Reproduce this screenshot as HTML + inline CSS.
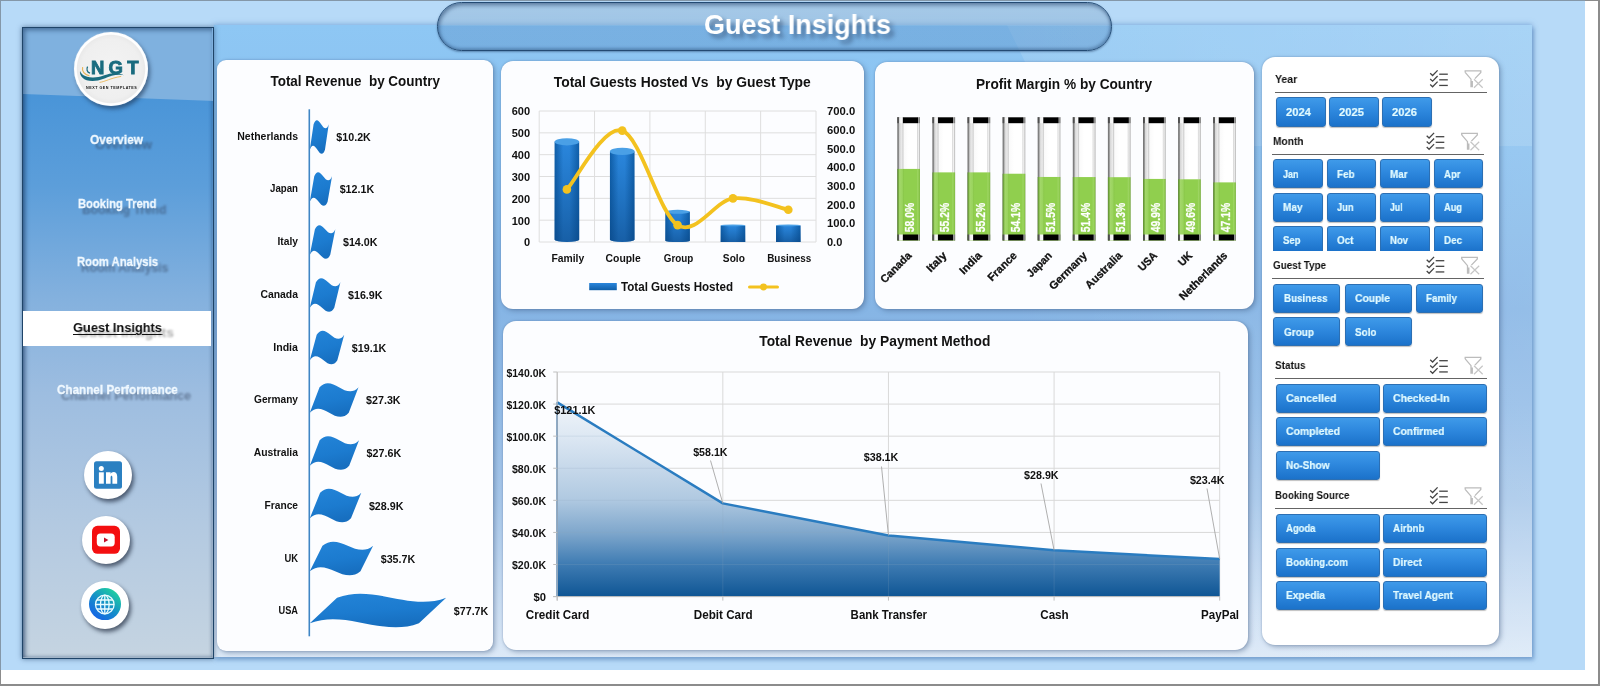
<!DOCTYPE html>
<html><head><meta charset="utf-8"><title>Guest Insights</title>
<style>
*{box-sizing:border-box;margin:0;padding:0}
html,body{width:1600px;height:686px;overflow:hidden;background:#fff;font-family:"Liberation Sans",sans-serif;}
#root{position:relative;width:1600px;height:686px;overflow:hidden;background:#fff;}
.abs{position:absolute}
.t{position:absolute;white-space:nowrap;line-height:1;transform-origin:0 50%;will-change:transform}
svg{position:absolute;left:0;top:0;overflow:visible;will-change:transform}
svg text{font-family:"Liberation Sans",sans-serif;white-space:pre}
.panel{position:absolute;background:#fcfdff;box-shadow:0 0 2px rgba(60,90,135,.4), 2px 2px 5px rgba(60,85,125,.42);}
.btn{position:absolute;border:1px solid #2c6fb3;border-radius:3px;background:linear-gradient(#3f9ae9 0%,#2e88de 45%,#1b72ca 100%);box-shadow:0 1px 1px rgba(0,0,0,.25);}
.hl{position:absolute;height:1.1px;background:#646464}
</style></head><body><div id="root">


<div class="abs" style="left:0;top:0;width:1600px;height:686px;background:#8c8c8c"></div>
<div class="abs" style="left:1px;top:1px;width:1597px;height:683px;background:#fff"></div>
<div class="abs" style="left:0;top:0;width:1585px;height:670px;background:#8497a8"></div>
<div class="abs" style="left:1px;top:1px;width:1584px;height:669px;background:#b7daf8"></div>
<div class="abs" id="inner" style="left:214px;top:25px;width:1317.5px;height:631.5px;background:linear-gradient(90deg,rgba(255,255,255,0) 0%,rgba(255,255,255,0) 60%,rgba(255,255,255,.12) 100%),linear-gradient(180deg,#8ec7f4 0%,#8ac1ef 20%,#86b5e5 45%,#93bce7 60%,#a8c8ea 75%,#c8dcf2 90%,#dce9f7 100%);box-shadow:0 -1px 5px rgba(90,140,200,.55), 2px 3px 4px rgba(80,125,180,.55);overflow:hidden">
  <svg width="1318" height="632" viewBox="0 0 1318 632"><polygon points="793,0 1318,0 1318,121 852,121" fill="#fff" fill-opacity=".13"/></svg>
</div>


<div class="abs" style="left:437px;top:2px;width:675px;height:49px;border-radius:25px;border:1.5px solid #234a73;background:linear-gradient(180deg,rgba(150,185,215,.55) 0%,rgba(140,180,215,.5) 46%,rgba(95,150,205,.45) 50%,rgba(95,150,205,.45) 100%);box-shadow:inset 1px 2px 4px rgba(20,50,90,.55), inset -1px -2px 3px rgba(20,50,90,.28), 0 1px 2px rgba(40,70,110,.5)"></div>

<div class="t " style="left:703.90px;top:11.73px;font-size:27px;color:#ffffff;font-weight:bold;transform:scaleX(0.9972);text-shadow:4px 4px 4px rgba(50,75,110,.6);">Guest Insights</div>

<div class="abs" id="side" style="left:22px;top:27px;width:192px;height:632px;border:1.5px solid #1f4468;background:linear-gradient(180deg,#4590d6 0%,#4a95d8 11%,#5c9eda 25%,#84b1de 43%,#9dbde0 58%,#b4cae1 80%,#c5d4e1 100%);box-shadow:0 0 5px rgba(30,60,100,.6), inset 0 0 4px rgba(30,60,100,.5);overflow:hidden">
  <svg width="192" height="100" viewBox="0 0 192 100"><polygon points="0,0 192,0 192,73 0,66" fill="#7fb1df"/></svg>
  <div class="abs" style="left:0;top:0;width:189px;height:629px;box-shadow:inset 2px 2px 5px rgba(20,50,90,.55)"></div>
</div>
<div class="abs" style="left:23px;top:311px;width:188px;height:34.5px;background:#fff"></div>


<div class="abs" style="left:74px;top:32px;width:74px;height:74px;border-radius:50%;background:radial-gradient(circle closest-side at 50% 50%,#f3f3f3 0%,#efefef 80%,#eaeaea 91%,#ffffff 94%,#fdfdfd 100%);box-shadow:2px 3px 4px rgba(20,40,70,.55), 0 0 1px rgba(255,255,255,.9)"></div>
<svg width="1600" height="686" viewBox="0 0 1600 686">
  <g transform="translate(0,0.6)"><path d="M80,70.1 C80.8,73.2 84.5,76.6 92.5,76.9 C100,77.2 105.5,73.6 111.5,72.9 C116.5,72.4 121,73.3 123.8,74.6 C120.5,74.1 116,73.9 111.8,75.2 C106,77 100.5,80.4 92.5,80.4 C83.5,80.4 79.2,75.2 80,70.1 Z" fill="#1a6c7f"/>
  <path d="M82.6,66.6 C81.6,70.6 84.6,74.2 89.4,75.2" fill="none" stroke="#e9b75a" stroke-width="1.2"/>
  <path d="M99.5,81.8 C105.5,81 110,77.6 121.2,75.8" fill="none" stroke="#e9b75a" stroke-width="0.9"/>
  <path d="M87.6,66 C86.2,68.6 87,71.4 90,72.6" fill="none" stroke="#1a6c7f" stroke-width="1.3"/></g>
</svg>

<div class="t " style="left:91.20px;top:58.60px;font-size:18.5px;color:#1a6c7f;font-weight:bold;transform:scaleX(1.0000);letter-spacing:4.2px;-webkit-text-stroke:0.9px #1a6c7f;">NGT</div>
<div class="t " style="left:85.90px;top:87.14px;font-size:3.7px;color:#111;font-weight:bold;transform:scaleX(1.0000);letter-spacing:.52px;">NEXT GEN TEMPLATES</div>
<div aria-hidden="true" class="t sh" style="left:94.60px;top:138.32px;font-size:13.3px;color:rgba(45,60,85,.5);font-weight:bold;transform:scaleX(0.9650);filter:blur(1.3px);">Overview</div><div class="t " style="left:90.10px;top:133.12px;font-size:13.3px;color:#f1f9ff;font-weight:bold;transform:scaleX(0.8960);-webkit-text-stroke:0.3px #f1f9ff;">Overview</div>
<div aria-hidden="true" class="t sh" style="left:82.30px;top:202.52px;font-size:13.3px;color:rgba(45,60,85,.5);font-weight:bold;transform:scaleX(0.9069);filter:blur(1.3px);">Booking Trend</div><div class="t " style="left:77.80px;top:197.32px;font-size:13.3px;color:#f1f9ff;font-weight:bold;transform:scaleX(0.8421);-webkit-text-stroke:0.3px #f1f9ff;">Booking Trend</div>
<div aria-hidden="true" class="t sh" style="left:81.30px;top:260.52px;font-size:13.3px;color:rgba(45,60,85,.5);font-weight:bold;transform:scaleX(0.9126);filter:blur(1.3px);">Room Analysis</div><div class="t " style="left:76.80px;top:255.32px;font-size:13.3px;color:#f1f9ff;font-weight:bold;transform:scaleX(0.8474);-webkit-text-stroke:0.3px #f1f9ff;">Room Analysis</div>
<div aria-hidden="true" class="t sh" style="left:61.00px;top:388.52px;font-size:13.3px;color:rgba(45,60,85,.5);font-weight:bold;transform:scaleX(0.9463);filter:blur(1.3px);">Channel Performance</div><div class="t " style="left:56.50px;top:383.32px;font-size:13.3px;color:#f1f9ff;font-weight:bold;transform:scaleX(0.8787);-webkit-text-stroke:0.3px #f1f9ff;">Channel Performance</div>
<div aria-hidden="true" class="t sh" style="left:77.50px;top:325.87px;font-size:13.6px;color:rgba(60,60,60,.42);font-weight:bold;transform:scaleX(1.0148);filter:blur(1.3px);">Guest Insights</div><div class="t " style="left:73.00px;top:320.67px;font-size:13.6px;color:#111;font-weight:bold;transform:scaleX(0.9422);text-decoration:underline;text-underline-offset:2px;text-decoration-thickness:1.2px;">Guest Insights</div>
<div class="abs" style="left:84px;top:451.4px;width:48px;height:48px;border-radius:50%;background:#fff;box-shadow:2px 3px 4px rgba(20,30,50,.65)"></div>
<div class="abs" style="left:82px;top:516px;width:48px;height:48px;border-radius:50%;background:#fff;box-shadow:2px 3px 4px rgba(20,30,50,.65)"></div>
<div class="abs" style="left:81.3px;top:580.6px;width:48px;height:48px;border-radius:50%;background:#fff;box-shadow:2px 3px 4px rgba(20,30,50,.65)"></div>

<svg width="1600" height="686" viewBox="0 0 1600 686">
  <defs><linearGradient id="gg" x1="0.85" y1="0.1" x2="0.2" y2="0.95"><stop offset="0" stop-color="#1fd0a0"/><stop offset=".5" stop-color="#1590c8"/><stop offset="1" stop-color="#1763e6"/></linearGradient></defs>
  <rect x="94" y="461.3" width="28" height="27.5" rx="2.5" fill="#2b80c1"/>
  <circle cx="101.3" cy="468.4" r="2.5" fill="#fff"/>
  <rect x="98.9" y="472.3" width="4.9" height="11.4" fill="#fff"/>
  <path d="M106,472.3 h4.6 v1.6 c1.2,-2.6 6.6,-2.9 6.6,2.6 v7.2 h-4.8 v-6.3 c0,-2.2 -1.8,-2.2 -1.8,0 v6.3 h-4.6 z" fill="#fff"/>
  <rect x="92" y="525.8" width="28" height="28" rx="5.5" fill="#f40f10"/>
  <rect x="96.8" y="533.6" width="17.9" height="12.8" rx="3.6" fill="#fff"/>
  <path d="M104,537.4 L108.4,539.9 L104,542.4 Z" fill="#c4102a"/>
  <circle cx="105" cy="604.1" r="16" fill="url(#gg)"/>
  <g fill="none" stroke="#eafcff" stroke-width="1.3">
    <circle cx="104.8" cy="604.5" r="9.3"/>
    <ellipse cx="104.8" cy="604.5" rx="4.3" ry="9.3"/>
    <path d="M104.8,595.2 V613.8 M95.5,604.5 H114.1 M96.8,600 H112.8 M96.8,609 H112.8"/>
  </g>
</svg>


<div class="panel" style="left:216.5px;top:60px;width:276.5px;height:591px;border-radius:9px"></div>
<div class="panel" style="left:501px;top:61px;width:363px;height:248px;border-radius:12px"></div>
<div class="panel" style="left:875px;top:61.5px;width:378.5px;height:247.5px;border-radius:12px"></div>
<div class="panel" style="left:503px;top:320.5px;width:744.5px;height:329.5px;border-radius:13px"></div>
<div class="panel" style="left:1262px;top:57px;width:237px;height:588px;border-radius:13px;background:#fff"></div>

<svg width="1600" height="686" viewBox="0 0 1600 686">
<defs><linearGradient id="fg" x1="0" y1="0" x2="0.3" y2="1"><stop offset="0" stop-color="#2384d8"/><stop offset=".6" stop-color="#1c7bcf"/><stop offset="1" stop-color="#176fc0"/></linearGradient></defs>
<text x="355.20" y="86.39" font-size="14.8" fill="#111" text-anchor="middle" font-weight="bold" textLength="169.50" lengthAdjust="spacingAndGlyphs" >Total Revenue  by Country</text>
<path d="M313.59,124.25 C318.64,110.08 323.70,138.42 328.75,124.25 L324.96,149.75 C319.91,163.92 314.85,135.58 309.80,149.75 Z" fill="url(#fg)"/>
<text x="298.00" y="140.28" font-size="11" fill="#111" text-anchor="end" font-weight="bold" textLength="60.80" lengthAdjust="spacingAndGlyphs" >Netherlands</text>
<text x="336.35" y="141.35" font-size="11.2" fill="#111" text-anchor="start" font-weight="bold" textLength="34.50" lengthAdjust="spacingAndGlyphs" >$10.2K</text>
<path d="M314.25,176.25 C320.19,162.08 326.12,190.42 332.05,176.25 L327.60,201.75 C321.67,215.92 315.73,187.58 309.80,201.75 Z" fill="url(#fg)"/>
<text x="298.00" y="192.28" font-size="11" fill="#111" text-anchor="end" font-weight="bold" textLength="28.00" lengthAdjust="spacingAndGlyphs" >Japan</text>
<text x="339.65" y="193.35" font-size="11.2" fill="#111" text-anchor="start" font-weight="bold" textLength="34.50" lengthAdjust="spacingAndGlyphs" >$12.1K</text>
<path d="M314.91,229.25 C321.73,215.08 328.54,243.42 335.36,229.25 L330.25,254.75 C323.43,268.92 316.62,240.58 309.80,254.75 Z" fill="url(#fg)"/>
<text x="298.00" y="245.28" font-size="11" fill="#111" text-anchor="end" font-weight="bold" textLength="20.50" lengthAdjust="spacingAndGlyphs" >Italy</text>
<text x="342.96" y="246.35" font-size="11.2" fill="#111" text-anchor="start" font-weight="bold" textLength="34.50" lengthAdjust="spacingAndGlyphs" >$14.0K</text>
<path d="M315.92,282.25 C324.08,268.08 332.24,296.42 340.41,282.25 L334.28,307.75 C326.12,321.92 317.96,293.58 309.80,307.75 Z" fill="url(#fg)"/>
<text x="298.00" y="298.28" font-size="11" fill="#111" text-anchor="end" font-weight="bold" textLength="37.60" lengthAdjust="spacingAndGlyphs" >Canada</text>
<text x="348.01" y="299.35" font-size="11.2" fill="#111" text-anchor="start" font-weight="bold" textLength="34.50" lengthAdjust="spacingAndGlyphs" >$16.9K</text>
<path d="M316.69,334.75 C325.87,320.58 335.05,348.92 344.23,334.75 L337.35,360.25 C328.16,374.42 318.98,346.08 309.80,360.25 Z" fill="url(#fg)"/>
<text x="298.00" y="350.78" font-size="11" fill="#111" text-anchor="end" font-weight="bold" textLength="24.80" lengthAdjust="spacingAndGlyphs" >India</text>
<text x="351.83" y="351.85" font-size="11.2" fill="#111" text-anchor="start" font-weight="bold" textLength="34.50" lengthAdjust="spacingAndGlyphs" >$19.1K</text>
<path d="M319.54,387.25 C332.53,373.08 345.51,401.42 358.50,387.25 L348.76,412.75 C335.77,426.92 322.79,398.58 309.80,412.75 Z" fill="url(#fg)"/>
<text x="298.00" y="403.28" font-size="11" fill="#111" text-anchor="end" font-weight="bold" textLength="44.00" lengthAdjust="spacingAndGlyphs" >Germany</text>
<text x="366.10" y="404.35" font-size="11.2" fill="#111" text-anchor="start" font-weight="bold" textLength="34.50" lengthAdjust="spacingAndGlyphs" >$27.3K</text>
<path d="M319.64,440.25 C332.77,426.08 345.90,454.42 359.02,440.25 L349.18,465.75 C336.05,479.92 322.93,451.58 309.80,465.75 Z" fill="url(#fg)"/>
<text x="298.00" y="456.28" font-size="11" fill="#111" text-anchor="end" font-weight="bold" textLength="44.30" lengthAdjust="spacingAndGlyphs" >Australia</text>
<text x="366.62" y="457.35" font-size="11.2" fill="#111" text-anchor="start" font-weight="bold" textLength="34.50" lengthAdjust="spacingAndGlyphs" >$27.6K</text>
<path d="M320.10,492.75 C333.83,478.58 347.56,506.92 361.29,492.75 L350.99,518.25 C337.26,532.42 323.53,504.08 309.80,518.25 Z" fill="url(#fg)"/>
<text x="298.00" y="508.78" font-size="11" fill="#111" text-anchor="end" font-weight="bold" textLength="33.50" lengthAdjust="spacingAndGlyphs" >France</text>
<text x="368.89" y="509.85" font-size="11.2" fill="#111" text-anchor="start" font-weight="bold" textLength="34.50" lengthAdjust="spacingAndGlyphs" >$28.9K</text>
<path d="M322.46,545.75 C339.35,531.58 356.23,559.92 373.12,545.75 L360.45,571.25 C343.57,585.42 326.68,557.08 309.80,571.25 Z" fill="url(#fg)"/>
<text x="298.00" y="561.78" font-size="11" fill="#111" text-anchor="end" font-weight="bold" textLength="13.60" lengthAdjust="spacingAndGlyphs" >UK</text>
<text x="380.72" y="562.85" font-size="11.2" fill="#111" text-anchor="start" font-weight="bold" textLength="34.50" lengthAdjust="spacingAndGlyphs" >$35.7K</text>
<path d="M337.08,597.75 C373.45,583.58 409.83,611.92 446.20,597.75 L418.92,623.25 C382.55,637.42 346.17,609.08 309.80,623.25 Z" fill="url(#fg)"/>
<text x="298.00" y="613.78" font-size="11" fill="#111" text-anchor="end" font-weight="bold" textLength="19.50" lengthAdjust="spacingAndGlyphs" >USA</text>
<text x="453.80" y="614.85" font-size="11.2" fill="#111" text-anchor="start" font-weight="bold" textLength="34.50" lengthAdjust="spacingAndGlyphs" >$77.7K</text>
<rect x="308.5" y="109.3" width="1.6" height="527" fill="#3f86c5"/>
</svg>
<svg width="1600" height="686" viewBox="0 0 1600 686">
<defs>
 <linearGradient id="cylh" x1="0" y1="0" x2="1" y2="0"><stop offset="0" stop-color="#0f5ea8"/><stop offset=".35" stop-color="#2a86dc"/><stop offset=".6" stop-color="#2a86dc"/><stop offset="1" stop-color="#0f5ea8"/></linearGradient>
 <linearGradient id="cylv" x1="0" y1="0" x2="0" y2="1"><stop offset="0" stop-color="#0a4a8a" stop-opacity="0"/><stop offset="1" stop-color="#083f7a" stop-opacity=".55"/></linearGradient>
 <linearGradient id="lgb" x1="0" y1="0" x2="0" y2="1"><stop offset="0" stop-color="#2a86dc"/><stop offset="1" stop-color="#0f5ea8"/></linearGradient>
 </defs>
<text x="682.30" y="87.29" font-size="14.8" fill="#111" text-anchor="middle" font-weight="bold" textLength="257.00" lengthAdjust="spacingAndGlyphs" >Total Guests Hosted Vs  by Guest Type</text>
<line x1="539.2" x2="816.0" y1="242.00" y2="242.00" stroke="#dedede" stroke-width="1"/>
<text x="530.00" y="246.38" font-size="11" fill="#111" text-anchor="end" font-weight="bold" >0</text>
<line x1="539.2" x2="816.0" y1="220.17" y2="220.17" stroke="#dedede" stroke-width="1"/>
<text x="530.00" y="224.55" font-size="11" fill="#111" text-anchor="end" font-weight="bold" >100</text>
<line x1="539.2" x2="816.0" y1="198.33" y2="198.33" stroke="#dedede" stroke-width="1"/>
<text x="530.00" y="202.72" font-size="11" fill="#111" text-anchor="end" font-weight="bold" >200</text>
<line x1="539.2" x2="816.0" y1="176.50" y2="176.50" stroke="#dedede" stroke-width="1"/>
<text x="530.00" y="180.88" font-size="11" fill="#111" text-anchor="end" font-weight="bold" >300</text>
<line x1="539.2" x2="816.0" y1="154.67" y2="154.67" stroke="#dedede" stroke-width="1"/>
<text x="530.00" y="159.05" font-size="11" fill="#111" text-anchor="end" font-weight="bold" >400</text>
<line x1="539.2" x2="816.0" y1="132.83" y2="132.83" stroke="#dedede" stroke-width="1"/>
<text x="530.00" y="137.22" font-size="11" fill="#111" text-anchor="end" font-weight="bold" >500</text>
<line x1="539.2" x2="816.0" y1="111.00" y2="111.00" stroke="#dedede" stroke-width="1"/>
<text x="530.00" y="115.38" font-size="11" fill="#111" text-anchor="end" font-weight="bold" >600</text>
<line x1="539.20" x2="539.20" y1="111.0" y2="242.0" stroke="#dedede" stroke-width="1"/>
<line x1="594.56" x2="594.56" y1="111.0" y2="242.0" stroke="#dedede" stroke-width="1"/>
<line x1="649.92" x2="649.92" y1="111.0" y2="242.0" stroke="#dedede" stroke-width="1"/>
<line x1="705.28" x2="705.28" y1="111.0" y2="242.0" stroke="#dedede" stroke-width="1"/>
<line x1="760.64" x2="760.64" y1="111.0" y2="242.0" stroke="#dedede" stroke-width="1"/>
<line x1="816.00" x2="816.00" y1="111.0" y2="242.0" stroke="#dedede" stroke-width="1"/>
<text x="827.00" y="246.08" font-size="11" fill="#111" text-anchor="start" font-weight="bold" textLength="15.30" lengthAdjust="spacingAndGlyphs" >0.0</text>
<text x="827.00" y="227.37" font-size="11" fill="#111" text-anchor="start" font-weight="bold" textLength="28.20" lengthAdjust="spacingAndGlyphs" >100.0</text>
<text x="827.00" y="208.66" font-size="11" fill="#111" text-anchor="start" font-weight="bold" textLength="28.20" lengthAdjust="spacingAndGlyphs" >200.0</text>
<text x="827.00" y="189.94" font-size="11" fill="#111" text-anchor="start" font-weight="bold" textLength="28.20" lengthAdjust="spacingAndGlyphs" >300.0</text>
<text x="827.00" y="171.23" font-size="11" fill="#111" text-anchor="start" font-weight="bold" textLength="28.20" lengthAdjust="spacingAndGlyphs" >400.0</text>
<text x="827.00" y="152.51" font-size="11" fill="#111" text-anchor="start" font-weight="bold" textLength="28.20" lengthAdjust="spacingAndGlyphs" >500.0</text>
<text x="827.00" y="133.80" font-size="11" fill="#111" text-anchor="start" font-weight="bold" textLength="28.20" lengthAdjust="spacingAndGlyphs" >600.0</text>
<text x="827.00" y="115.08" font-size="11" fill="#111" text-anchor="start" font-weight="bold" textLength="28.20" lengthAdjust="spacingAndGlyphs" >700.0</text>
<path d="M554.58,141.78 V239.84 A12.30,2.16 0 0 0 579.18,239.84 V141.78 Z" fill="url(#cylh)"/><path d="M554.58,141.78 V239.84 A12.30,2.16 0 0 0 579.18,239.84 V141.78 Z" fill="url(#cylv)"/>
<ellipse cx="566.88" cy="141.78" rx="12.30" ry="3.6" fill="#4aa0e6"/>
<text x="567.78" y="262.08" font-size="11" fill="#111" text-anchor="middle" font-weight="bold" textLength="32.80" lengthAdjust="spacingAndGlyphs" >Family</text>
<path d="M609.94,151.39 V239.84 A12.30,2.16 0 0 0 634.54,239.84 V151.39 Z" fill="url(#cylh)"/><path d="M609.94,151.39 V239.84 A12.30,2.16 0 0 0 634.54,239.84 V151.39 Z" fill="url(#cylv)"/>
<ellipse cx="622.24" cy="151.39" rx="12.30" ry="3.6" fill="#4aa0e6"/>
<text x="623.14" y="262.08" font-size="11" fill="#111" text-anchor="middle" font-weight="bold" textLength="35.20" lengthAdjust="spacingAndGlyphs" >Couple</text>
<path d="M665.30,211.87 V240.80 A12.30,1.20 0 0 0 689.90,240.80 V211.87 Z" fill="url(#cylh)"/><path d="M665.30,211.87 V240.80 A12.30,1.20 0 0 0 689.90,240.80 V211.87 Z" fill="url(#cylv)"/>
<ellipse cx="677.60" cy="211.87" rx="12.30" ry="2.0" fill="#4aa0e6"/>
<text x="678.50" y="262.08" font-size="11" fill="#111" text-anchor="middle" font-weight="bold" textLength="29.50" lengthAdjust="spacingAndGlyphs" >Group</text>
<path d="M720.66,225.41 V241.99 A12.30,0.01 0 0 0 745.26,241.99 V225.41 Z" fill="url(#cylh)"/><path d="M720.66,225.41 V241.99 A12.30,0.01 0 0 0 745.26,241.99 V225.41 Z" fill="url(#cylv)"/>
<ellipse cx="732.96" cy="225.41" rx="12.30" ry="0.8" fill="#4aa0e6"/>
<text x="733.86" y="262.08" font-size="11" fill="#111" text-anchor="middle" font-weight="bold" textLength="22.00" lengthAdjust="spacingAndGlyphs" >Solo</text>
<path d="M776.02,225.41 V241.99 A12.30,0.01 0 0 0 800.62,241.99 V225.41 Z" fill="url(#cylh)"/><path d="M776.02,225.41 V241.99 A12.30,0.01 0 0 0 800.62,241.99 V225.41 Z" fill="url(#cylv)"/>
<ellipse cx="788.32" cy="225.41" rx="12.30" ry="0.8" fill="#4aa0e6"/>
<text x="789.22" y="262.08" font-size="11" fill="#111" text-anchor="middle" font-weight="bold" textLength="44.00" lengthAdjust="spacingAndGlyphs" >Business</text>
<path d="M566.88,189.41 C576.11,179.62 603.79,124.69 622.24,130.65 C640.69,136.61 659.15,213.87 677.60,225.16 C696.05,236.45 714.51,200.95 732.96,198.40 C751.41,195.84 779.09,207.91 788.32,209.81" fill="none" stroke="#f3c21f" stroke-width="3.8" stroke-linecap="round" stroke-linejoin="round"/>
<circle cx="566.88" cy="189.41" r="4.3" fill="#f3c21f"/>
<circle cx="622.24" cy="130.65" r="4.3" fill="#f3c21f"/>
<circle cx="677.60" cy="225.16" r="4.3" fill="#f3c21f"/>
<circle cx="732.96" cy="198.40" r="4.3" fill="#f3c21f"/>
<circle cx="788.32" cy="209.81" r="4.3" fill="#f3c21f"/>
<rect x="589.2" y="283" width="27.6" height="7.2" fill="url(#lgb)"/>
<text x="621.00" y="290.93" font-size="12.3" fill="#111" text-anchor="start" font-weight="bold" textLength="112.00" lengthAdjust="spacingAndGlyphs" >Total Guests Hosted</text>
<line x1="749.6" x2="777.4" y1="287" y2="287" stroke="#f3c21f" stroke-width="3.2" stroke-linecap="round"/><circle cx="763.5" cy="287" r="3.4" fill="#f3c21f"/>
</svg>
<svg width="1600" height="686" viewBox="0 0 1600 686">
<defs>
 <linearGradient id="tube" x1="0" y1="0" x2="1" y2="0"><stop offset="0" stop-color="#6f6f6f"/><stop offset="0.06" stop-color="#8c8c8c"/><stop offset="0.1" stop-color="#d6d6d6"/><stop offset="0.2" stop-color="#ebebeb"/><stop offset="0.25" stop-color="#cfcfcf"/><stop offset="0.3" stop-color="#fafafa"/><stop offset="0.5" stop-color="#ffffff"/><stop offset="0.85" stop-color="#ffffff"/><stop offset="0.89" stop-color="#dadada"/><stop offset="0.93" stop-color="#f0f0f0"/><stop offset="0.97" stop-color="#cccccc"/><stop offset="1" stop-color="#adadad"/></linearGradient>
 <linearGradient id="cap" x1="0" y1="0" x2="1" y2="0"><stop offset="0" stop-color="#454545"/><stop offset="0.07" stop-color="#585858"/><stop offset="0.1" stop-color="#efefef"/><stop offset="0.22" stop-color="#fafafa"/><stop offset="0.27" stop-color="#000"/><stop offset="0.9" stop-color="#000"/><stop offset="0.93" stop-color="#9a9a9a"/><stop offset="1" stop-color="#787878"/></linearGradient>
 <linearGradient id="grn" x1="0" y1="0" x2="1" y2="0"><stop offset="0" stop-color="#5f8c35"/><stop offset="0.06" stop-color="#78ad42"/><stop offset="0.1" stop-color="#a3d76a"/><stop offset="0.22" stop-color="#9ad45e"/><stop offset="0.27" stop-color="#8bc84b"/><stop offset="0.31" stop-color="#90cf4e"/><stop offset="0.85" stop-color="#90cf4e"/><stop offset="0.9" stop-color="#9dd562"/><stop offset="0.96" stop-color="#8cc94c"/><stop offset="1" stop-color="#7db445"/></linearGradient>
 </defs>
<text x="1064.00" y="89.49" font-size="14.8" fill="#111" text-anchor="middle" font-weight="bold" textLength="176.00" lengthAdjust="spacingAndGlyphs" >Profit Margin % by Country</text>
<rect x="897.30" y="117.0" width="22.7" height="123.6" fill="url(#tube)"/>
<rect x="897.30" y="168.91" width="22.7" height="71.69" fill="url(#grn)"/>
<rect x="897.30" y="117.3" width="22.7" height="5.9" fill="url(#cap)"/>
<rect x="897.30" y="234.50" width="22.7" height="5.9" fill="url(#cap)"/>
<text transform="translate(914.35,232.2) rotate(-90)" font-size="12.6" font-weight="bold" fill="#fff" stroke="#fff" stroke-width="0.25" textLength="29.3" lengthAdjust="spacingAndGlyphs">58.0%</text>
<text transform="translate(912.25,256.2) rotate(-45)" font-size="11" font-weight="bold" fill="#111" stroke="#111" stroke-width="0.3" text-anchor="end" textLength="39" lengthAdjust="spacingAndGlyphs">Canada</text>
<rect x="932.40" y="117.0" width="22.7" height="123.6" fill="url(#tube)"/>
<rect x="932.40" y="172.37" width="22.7" height="68.23" fill="url(#grn)"/>
<rect x="932.40" y="117.3" width="22.7" height="5.9" fill="url(#cap)"/>
<rect x="932.40" y="234.50" width="22.7" height="5.9" fill="url(#cap)"/>
<text transform="translate(949.45,232.2) rotate(-90)" font-size="12.6" font-weight="bold" fill="#fff" stroke="#fff" stroke-width="0.25" textLength="29.3" lengthAdjust="spacingAndGlyphs">55.2%</text>
<text transform="translate(947.35,256.2) rotate(-45)" font-size="11" font-weight="bold" fill="#111" stroke="#111" stroke-width="0.3" text-anchor="end" textLength="23.5" lengthAdjust="spacingAndGlyphs">Italy</text>
<rect x="967.50" y="117.0" width="22.7" height="123.6" fill="url(#tube)"/>
<rect x="967.50" y="172.37" width="22.7" height="68.23" fill="url(#grn)"/>
<rect x="967.50" y="117.3" width="22.7" height="5.9" fill="url(#cap)"/>
<rect x="967.50" y="234.50" width="22.7" height="5.9" fill="url(#cap)"/>
<text transform="translate(984.55,232.2) rotate(-90)" font-size="12.6" font-weight="bold" fill="#fff" stroke="#fff" stroke-width="0.25" textLength="29.3" lengthAdjust="spacingAndGlyphs">55.2%</text>
<text transform="translate(982.45,256.2) rotate(-45)" font-size="11" font-weight="bold" fill="#111" stroke="#111" stroke-width="0.3" text-anchor="end" textLength="26.5" lengthAdjust="spacingAndGlyphs">India</text>
<rect x="1002.60" y="117.0" width="22.7" height="123.6" fill="url(#tube)"/>
<rect x="1002.60" y="173.73" width="22.7" height="66.87" fill="url(#grn)"/>
<rect x="1002.60" y="117.3" width="22.7" height="5.9" fill="url(#cap)"/>
<rect x="1002.60" y="234.50" width="22.7" height="5.9" fill="url(#cap)"/>
<text transform="translate(1019.65,232.2) rotate(-90)" font-size="12.6" font-weight="bold" fill="#fff" stroke="#fff" stroke-width="0.25" textLength="29.3" lengthAdjust="spacingAndGlyphs">54.1%</text>
<text transform="translate(1017.55,256.2) rotate(-45)" font-size="11" font-weight="bold" fill="#111" stroke="#111" stroke-width="0.3" text-anchor="end" textLength="36" lengthAdjust="spacingAndGlyphs">France</text>
<rect x="1037.70" y="117.0" width="22.7" height="123.6" fill="url(#tube)"/>
<rect x="1037.70" y="176.95" width="22.7" height="63.65" fill="url(#grn)"/>
<rect x="1037.70" y="117.3" width="22.7" height="5.9" fill="url(#cap)"/>
<rect x="1037.70" y="234.50" width="22.7" height="5.9" fill="url(#cap)"/>
<text transform="translate(1054.75,232.2) rotate(-90)" font-size="12.6" font-weight="bold" fill="#fff" stroke="#fff" stroke-width="0.25" textLength="29.3" lengthAdjust="spacingAndGlyphs">51.5%</text>
<text transform="translate(1052.65,256.2) rotate(-45)" font-size="11" font-weight="bold" fill="#111" stroke="#111" stroke-width="0.3" text-anchor="end" textLength="30.5" lengthAdjust="spacingAndGlyphs">Japan</text>
<rect x="1072.80" y="117.0" width="22.7" height="123.6" fill="url(#tube)"/>
<rect x="1072.80" y="177.07" width="22.7" height="63.53" fill="url(#grn)"/>
<rect x="1072.80" y="117.3" width="22.7" height="5.9" fill="url(#cap)"/>
<rect x="1072.80" y="234.50" width="22.7" height="5.9" fill="url(#cap)"/>
<text transform="translate(1089.85,232.2) rotate(-90)" font-size="12.6" font-weight="bold" fill="#fff" stroke="#fff" stroke-width="0.25" textLength="29.3" lengthAdjust="spacingAndGlyphs">51.4%</text>
<text transform="translate(1087.75,256.2) rotate(-45)" font-size="11" font-weight="bold" fill="#111" stroke="#111" stroke-width="0.3" text-anchor="end" textLength="48.5" lengthAdjust="spacingAndGlyphs">Germany</text>
<rect x="1107.90" y="117.0" width="22.7" height="123.6" fill="url(#tube)"/>
<rect x="1107.90" y="177.19" width="22.7" height="63.41" fill="url(#grn)"/>
<rect x="1107.90" y="117.3" width="22.7" height="5.9" fill="url(#cap)"/>
<rect x="1107.90" y="234.50" width="22.7" height="5.9" fill="url(#cap)"/>
<text transform="translate(1124.95,232.2) rotate(-90)" font-size="12.6" font-weight="bold" fill="#fff" stroke="#fff" stroke-width="0.25" textLength="29.3" lengthAdjust="spacingAndGlyphs">51.3%</text>
<text transform="translate(1122.85,256.2) rotate(-45)" font-size="11" font-weight="bold" fill="#111" stroke="#111" stroke-width="0.3" text-anchor="end" textLength="47" lengthAdjust="spacingAndGlyphs">Australia</text>
<rect x="1143.00" y="117.0" width="22.7" height="123.6" fill="url(#tube)"/>
<rect x="1143.00" y="178.92" width="22.7" height="61.68" fill="url(#grn)"/>
<rect x="1143.00" y="117.3" width="22.7" height="5.9" fill="url(#cap)"/>
<rect x="1143.00" y="234.50" width="22.7" height="5.9" fill="url(#cap)"/>
<text transform="translate(1160.05,232.2) rotate(-90)" font-size="12.6" font-weight="bold" fill="#fff" stroke="#fff" stroke-width="0.25" textLength="29.3" lengthAdjust="spacingAndGlyphs">49.9%</text>
<text transform="translate(1157.95,256.2) rotate(-45)" font-size="11" font-weight="bold" fill="#111" stroke="#111" stroke-width="0.3" text-anchor="end" textLength="22" lengthAdjust="spacingAndGlyphs">USA</text>
<rect x="1178.10" y="117.0" width="22.7" height="123.6" fill="url(#tube)"/>
<rect x="1178.10" y="179.29" width="22.7" height="61.31" fill="url(#grn)"/>
<rect x="1178.10" y="117.3" width="22.7" height="5.9" fill="url(#cap)"/>
<rect x="1178.10" y="234.50" width="22.7" height="5.9" fill="url(#cap)"/>
<text transform="translate(1195.15,232.2) rotate(-90)" font-size="12.6" font-weight="bold" fill="#fff" stroke="#fff" stroke-width="0.25" textLength="29.3" lengthAdjust="spacingAndGlyphs">49.6%</text>
<text transform="translate(1193.05,256.2) rotate(-45)" font-size="11" font-weight="bold" fill="#111" stroke="#111" stroke-width="0.3" text-anchor="end" textLength="15" lengthAdjust="spacingAndGlyphs">UK</text>
<rect x="1213.20" y="117.0" width="22.7" height="123.6" fill="url(#tube)"/>
<rect x="1213.20" y="182.38" width="22.7" height="58.22" fill="url(#grn)"/>
<rect x="1213.20" y="117.3" width="22.7" height="5.9" fill="url(#cap)"/>
<rect x="1213.20" y="234.50" width="22.7" height="5.9" fill="url(#cap)"/>
<text transform="translate(1230.25,232.2) rotate(-90)" font-size="12.6" font-weight="bold" fill="#fff" stroke="#fff" stroke-width="0.25" textLength="29.3" lengthAdjust="spacingAndGlyphs">47.1%</text>
<text transform="translate(1228.15,256.2) rotate(-45)" font-size="11" font-weight="bold" fill="#111" stroke="#111" stroke-width="0.3" text-anchor="end" textLength="63" lengthAdjust="spacingAndGlyphs">Netherlands</text>
</svg>
<svg width="1600" height="686" viewBox="0 0 1600 686">
<defs><linearGradient id="area" x1="0" y1="402" x2="0" y2="597" gradientUnits="userSpaceOnUse"><stop offset="0" stop-color="#f1f5fa"/><stop offset=".175" stop-color="#dde8f3"/><stop offset=".34" stop-color="#c6d8ea"/><stop offset=".5" stop-color="#b0c9e1"/><stop offset=".67" stop-color="#7fa7cc"/><stop offset=".83" stop-color="#3f7cb3"/><stop offset="1" stop-color="#0e5594"/></linearGradient></defs>
<text x="874.80" y="346.39" font-size="14.8" fill="#111" text-anchor="middle" font-weight="bold" textLength="231.00" lengthAdjust="spacingAndGlyphs" >Total Revenue  by Payment Method</text>
<line x1="557.2" x2="1219.7" y1="596.60" y2="596.60" stroke="#d9d9d9" stroke-width="1"/>
<text x="546.00" y="601.18" font-size="11" fill="#111" text-anchor="end" font-weight="bold" textLength="12.50" lengthAdjust="spacingAndGlyphs" >$0</text>
<line x1="557.2" x2="1219.7" y1="564.51" y2="564.51" stroke="#d9d9d9" stroke-width="1"/>
<text x="546.00" y="569.10" font-size="11" fill="#111" text-anchor="end" font-weight="bold" textLength="34.00" lengthAdjust="spacingAndGlyphs" >$20.0K</text>
<line x1="557.2" x2="1219.7" y1="532.43" y2="532.43" stroke="#d9d9d9" stroke-width="1"/>
<text x="546.00" y="537.01" font-size="11" fill="#111" text-anchor="end" font-weight="bold" textLength="34.00" lengthAdjust="spacingAndGlyphs" >$40.0K</text>
<line x1="557.2" x2="1219.7" y1="500.34" y2="500.34" stroke="#d9d9d9" stroke-width="1"/>
<text x="546.00" y="504.93" font-size="11" fill="#111" text-anchor="end" font-weight="bold" textLength="34.00" lengthAdjust="spacingAndGlyphs" >$60.0K</text>
<line x1="557.2" x2="1219.7" y1="468.26" y2="468.26" stroke="#d9d9d9" stroke-width="1"/>
<text x="546.00" y="472.84" font-size="11" fill="#111" text-anchor="end" font-weight="bold" textLength="34.00" lengthAdjust="spacingAndGlyphs" >$80.0K</text>
<line x1="557.2" x2="1219.7" y1="436.17" y2="436.17" stroke="#d9d9d9" stroke-width="1"/>
<text x="546.00" y="440.76" font-size="11" fill="#111" text-anchor="end" font-weight="bold" textLength="39.50" lengthAdjust="spacingAndGlyphs" >$100.0K</text>
<line x1="557.2" x2="1219.7" y1="404.09" y2="404.09" stroke="#d9d9d9" stroke-width="1"/>
<text x="546.00" y="408.67" font-size="11" fill="#111" text-anchor="end" font-weight="bold" textLength="39.50" lengthAdjust="spacingAndGlyphs" >$120.0K</text>
<line x1="557.2" x2="1219.7" y1="372.00" y2="372.00" stroke="#d9d9d9" stroke-width="1"/>
<text x="546.00" y="376.58" font-size="11" fill="#111" text-anchor="end" font-weight="bold" textLength="39.50" lengthAdjust="spacingAndGlyphs" >$140.0K</text>
<line x1="557.20" x2="557.20" y1="372.0" y2="596.6" stroke="#d9d9d9" stroke-width="1"/>
<line x1="722.83" x2="722.83" y1="372.0" y2="596.6" stroke="#d9d9d9" stroke-width="1"/>
<line x1="888.45" x2="888.45" y1="372.0" y2="596.6" stroke="#d9d9d9" stroke-width="1"/>
<line x1="1054.08" x2="1054.08" y1="372.0" y2="596.6" stroke="#d9d9d9" stroke-width="1"/>
<line x1="1219.70" x2="1219.70" y1="372.0" y2="596.6" stroke="#d9d9d9" stroke-width="1"/>
<polygon points="557.2,596.6 557.20,402.32 722.83,503.39 888.45,535.48 1054.08,550.24 1219.70,559.06 1219.7,596.6" fill="url(#area)"/>
<clipPath id="acl"><polygon points="557.2,596.6 557.20,402.32 722.83,503.39 888.45,535.48 1054.08,550.24 1219.70,559.06 1219.7,596.6"/></clipPath><g clip-path="url(#acl)" stroke="#8aa3bd" stroke-opacity=".2" stroke-width="1">
<line x1="557.2" x2="1219.7" y1="564.51" y2="564.51"/>
<line x1="557.2" x2="1219.7" y1="532.43" y2="532.43"/>
<line x1="557.2" x2="1219.7" y1="500.34" y2="500.34"/>
<line x1="557.2" x2="1219.7" y1="468.26" y2="468.26"/>
<line x1="557.2" x2="1219.7" y1="436.17" y2="436.17"/>
<line x1="557.2" x2="1219.7" y1="404.09" y2="404.09"/>
<line x1="722.83" x2="722.83" y1="372.0" y2="596.6"/>
<line x1="888.45" x2="888.45" y1="372.0" y2="596.6"/>
<line x1="1054.08" x2="1054.08" y1="372.0" y2="596.6"/>
</g>
<line x1="557.2" x2="557.2" y1="402.32" y2="596.6" stroke="#2a6fb0" stroke-width="1.6"/>
<polyline points="557.20,402.32 722.83,503.39 888.45,535.48 1054.08,550.24 1219.70,559.06" fill="none" stroke="#2a7cc0" stroke-width="2.5" stroke-linejoin="round"/>
<line x1="557.2" x2="557.2" y1="372.0" y2="600.6" stroke="#bfbfbf" stroke-width="1"/>
<line x1="553.2" x2="1219.7" y1="596.6" y2="596.6" stroke="#bfbfbf" stroke-width="1"/>
<line x1="557.20" x2="557.20" y1="596.6" y2="600.6" stroke="#bfbfbf" stroke-width="1"/>
<line x1="722.83" x2="722.83" y1="596.6" y2="600.6" stroke="#bfbfbf" stroke-width="1"/>
<line x1="888.45" x2="888.45" y1="596.6" y2="600.6" stroke="#bfbfbf" stroke-width="1"/>
<line x1="1054.08" x2="1054.08" y1="596.6" y2="600.6" stroke="#bfbfbf" stroke-width="1"/>
<line x1="1219.70" x2="1219.70" y1="596.6" y2="600.6" stroke="#bfbfbf" stroke-width="1"/>
<line x1="553.2" x2="557.2" y1="596.60" y2="596.60" stroke="#bfbfbf" stroke-width="1"/>
<line x1="553.2" x2="557.2" y1="564.51" y2="564.51" stroke="#bfbfbf" stroke-width="1"/>
<line x1="553.2" x2="557.2" y1="532.43" y2="532.43" stroke="#bfbfbf" stroke-width="1"/>
<line x1="553.2" x2="557.2" y1="500.34" y2="500.34" stroke="#bfbfbf" stroke-width="1"/>
<line x1="553.2" x2="557.2" y1="468.26" y2="468.26" stroke="#bfbfbf" stroke-width="1"/>
<line x1="553.2" x2="557.2" y1="436.17" y2="436.17" stroke="#bfbfbf" stroke-width="1"/>
<line x1="553.2" x2="557.2" y1="404.09" y2="404.09" stroke="#bfbfbf" stroke-width="1"/>
<line x1="553.2" x2="557.2" y1="372.00" y2="372.00" stroke="#bfbfbf" stroke-width="1"/>
<text x="554.30" y="413.58" font-size="11" fill="#111" text-anchor="start" font-weight="bold" textLength="41.00" lengthAdjust="spacingAndGlyphs" >$121.1K</text>
<line x1="710.5" y1="460.5" x2="722.83" y2="503.39" stroke="#a6a6a6" stroke-width="0.9"/>
<text x="693.20" y="455.78" font-size="11" fill="#111" text-anchor="start" font-weight="bold" textLength="34.30" lengthAdjust="spacingAndGlyphs" >$58.1K</text>
<line x1="881.5" y1="466.5" x2="888.45" y2="535.48" stroke="#a6a6a6" stroke-width="0.9"/>
<text x="863.70" y="460.98" font-size="11" fill="#111" text-anchor="start" font-weight="bold" textLength="34.70" lengthAdjust="spacingAndGlyphs" >$38.1K</text>
<line x1="1041" y1="483.5" x2="1054.08" y2="550.24" stroke="#a6a6a6" stroke-width="0.9"/>
<text x="1024.00" y="478.98" font-size="11" fill="#111" text-anchor="start" font-weight="bold" textLength="34.60" lengthAdjust="spacingAndGlyphs" >$28.9K</text>
<line x1="1207" y1="488.5" x2="1219.70" y2="559.06" stroke="#a6a6a6" stroke-width="0.9"/>
<text x="1189.90" y="483.78" font-size="11" fill="#111" text-anchor="start" font-weight="bold" textLength="34.70" lengthAdjust="spacingAndGlyphs" >$23.4K</text>
<text x="557.60" y="618.53" font-size="12" fill="#111" text-anchor="middle" font-weight="bold" textLength="63.50" lengthAdjust="spacingAndGlyphs" >Credit Card</text>
<text x="723.23" y="618.53" font-size="12" fill="#111" text-anchor="middle" font-weight="bold" textLength="59.00" lengthAdjust="spacingAndGlyphs" >Debit Card</text>
<text x="888.85" y="618.53" font-size="12" fill="#111" text-anchor="middle" font-weight="bold" textLength="76.50" lengthAdjust="spacingAndGlyphs" >Bank Transfer</text>
<text x="1054.48" y="618.53" font-size="12" fill="#111" text-anchor="middle" font-weight="bold" textLength="28.50" lengthAdjust="spacingAndGlyphs" >Cash</text>
<text x="1220.10" y="618.53" font-size="12" fill="#111" text-anchor="middle" font-weight="bold" textLength="38.00" lengthAdjust="spacingAndGlyphs" >PayPal</text>
</svg>
<div class="t " style="left:1275.30px;top:73.87px;font-size:11.2px;color:#111;font-weight:bold;transform:scaleX(0.9421);">Year</div>
<div class="hl" style="left:1275px;top:92px;width:212px"></div>
<svg width="1600" height="686" viewBox="0 0 1600 686"><g fill="none" stroke="#444" stroke-width="1.3"><path d="M1430.20,73.30 L1432.60,75.50 L1437.60,70.40"/><path d="M1439.20,74.20 H1447.80"/><path d="M1430.20,78.92 L1432.60,81.12 L1437.60,76.02"/><path d="M1439.20,79.82 H1447.80"/><path d="M1430.20,84.54 L1432.60,86.74 L1437.60,81.64"/><path d="M1439.20,85.44 H1447.80"/></g><g fill="none" stroke="#bcbcbc" stroke-width="1.3" stroke-linejoin="miter"><path d="M1465.20,72.60 V70.80 H1480.80 V72.50 L1474.90,78.60"/><path d="M1465.20,72.40 L1471.00,79.20 V87.20 M1472.30,81.00 V87.20"/><path d="M1474.00,79.30 L1482.70,87.70 M1482.70,79.30 L1474.00,87.70" stroke="#c6c6c6" stroke-width="1.2"/></g></svg>
<div class="btn" style="left:1276.0px;top:97.0px;width:49.5px;height:29.7px;"></div>
<div class="t " style="left:1286.25px;top:106.77px;font-size:11.3px;color:#e2fbff;font-weight:bold;transform:scaleX(0.9945);-webkit-text-stroke:0.2px #e2fbff;">2024</div>
<div class="btn" style="left:1329.0px;top:97.0px;width:49.5px;height:29.7px;"></div>
<div class="t " style="left:1339.25px;top:106.77px;font-size:11.3px;color:#e2fbff;font-weight:bold;transform:scaleX(0.9945);-webkit-text-stroke:0.2px #e2fbff;">2025</div>
<div class="btn" style="left:1382.0px;top:97.0px;width:49.5px;height:29.7px;"></div>
<div class="t " style="left:1392.25px;top:106.77px;font-size:11.3px;color:#e2fbff;font-weight:bold;transform:scaleX(0.9945);-webkit-text-stroke:0.2px #e2fbff;">2026</div>
<div class="t " style="left:1272.70px;top:135.57px;font-size:11.2px;color:#111;font-weight:bold;transform:scaleX(0.9081);">Month</div>
<div class="hl" style="left:1272.4px;top:154px;width:212px"></div>
<svg width="1600" height="686" viewBox="0 0 1600 686"><g fill="none" stroke="#444" stroke-width="1.3"><path d="M1426.70,135.80 L1429.10,138.00 L1434.10,132.90"/><path d="M1435.70,136.70 H1444.30"/><path d="M1426.70,141.42 L1429.10,143.62 L1434.10,138.52"/><path d="M1435.70,142.32 H1444.30"/><path d="M1426.70,147.04 L1429.10,149.24 L1434.10,144.14"/><path d="M1435.70,147.94 H1444.30"/></g><g fill="none" stroke="#bcbcbc" stroke-width="1.3" stroke-linejoin="miter"><path d="M1461.70,135.10 V133.30 H1477.30 V135.00 L1471.40,141.10"/><path d="M1461.70,134.90 L1467.50,141.70 V149.70 M1468.80,143.50 V149.70"/><path d="M1470.50,141.80 L1479.20,150.20 M1479.20,141.80 L1470.50,150.20" stroke="#c6c6c6" stroke-width="1.2"/></g></svg>
<div class="btn" style="left:1273.4px;top:159.2px;width:49.5px;height:29.0px;"></div>
<div class="t " style="left:1283.40px;top:168.52px;font-size:11.3px;color:#e2fbff;font-weight:bold;transform:scaleX(0.7960);-webkit-text-stroke:0.2px #e2fbff;">Jan</div>
<div class="btn" style="left:1326.8px;top:159.2px;width:49.5px;height:29.0px;"></div>
<div class="t " style="left:1336.80px;top:168.52px;font-size:11.3px;color:#e2fbff;font-weight:bold;transform:scaleX(0.8711);-webkit-text-stroke:0.2px #e2fbff;">Feb</div>
<div class="btn" style="left:1380.2px;top:159.2px;width:49.5px;height:29.0px;"></div>
<div class="t " style="left:1390.20px;top:168.52px;font-size:11.3px;color:#e2fbff;font-weight:bold;transform:scaleX(0.8708);-webkit-text-stroke:0.2px #e2fbff;">Mar</div>
<div class="btn" style="left:1433.6px;top:159.2px;width:49.5px;height:29.0px;"></div>
<div class="t " style="left:1443.60px;top:168.52px;font-size:11.3px;color:#e2fbff;font-weight:bold;transform:scaleX(0.8479);-webkit-text-stroke:0.2px #e2fbff;">Apr</div>
<div class="btn" style="left:1273.4px;top:192.6px;width:49.5px;height:29.0px;"></div>
<div class="t " style="left:1283.40px;top:201.92px;font-size:11.3px;color:#e2fbff;font-weight:bold;transform:scaleX(0.8871);-webkit-text-stroke:0.2px #e2fbff;">May</div>
<div class="btn" style="left:1326.8px;top:192.6px;width:49.5px;height:29.0px;"></div>
<div class="t " style="left:1336.80px;top:201.92px;font-size:11.3px;color:#e2fbff;font-weight:bold;transform:scaleX(0.8213);-webkit-text-stroke:0.2px #e2fbff;">Jun</div>
<div class="btn" style="left:1380.2px;top:192.6px;width:49.5px;height:29.0px;"></div>
<div class="t " style="left:1390.20px;top:201.92px;font-size:11.3px;color:#e2fbff;font-weight:bold;transform:scaleX(0.7656);-webkit-text-stroke:0.2px #e2fbff;">Jul</div>
<div class="btn" style="left:1433.6px;top:192.6px;width:49.5px;height:29.0px;"></div>
<div class="t " style="left:1443.60px;top:201.92px;font-size:11.3px;color:#e2fbff;font-weight:bold;transform:scaleX(0.8194);-webkit-text-stroke:0.2px #e2fbff;">Aug</div>
<div class="btn" style="left:1273.4px;top:226.0px;width:49.5px;height:25.3px;border-bottom:none;border-bottom-left-radius:0;border-bottom-right-radius:0;box-shadow:none;"></div>
<div class="t " style="left:1283.40px;top:235.32px;font-size:11.3px;color:#e2fbff;font-weight:bold;transform:scaleX(0.8444);-webkit-text-stroke:0.2px #e2fbff;">Sep</div>
<div class="btn" style="left:1326.8px;top:226.0px;width:49.5px;height:25.3px;border-bottom:none;border-bottom-left-radius:0;border-bottom-right-radius:0;box-shadow:none;"></div>
<div class="t " style="left:1336.80px;top:235.32px;font-size:11.3px;color:#e2fbff;font-weight:bold;transform:scaleX(0.8759);-webkit-text-stroke:0.2px #e2fbff;">Oct</div>
<div class="btn" style="left:1380.2px;top:226.0px;width:49.5px;height:25.3px;border-bottom:none;border-bottom-left-radius:0;border-bottom-right-radius:0;box-shadow:none;"></div>
<div class="t " style="left:1390.20px;top:235.32px;font-size:11.3px;color:#e2fbff;font-weight:bold;transform:scaleX(0.8432);-webkit-text-stroke:0.2px #e2fbff;">Nov</div>
<div class="btn" style="left:1433.6px;top:226.0px;width:49.5px;height:25.3px;border-bottom:none;border-bottom-left-radius:0;border-bottom-right-radius:0;box-shadow:none;"></div>
<div class="t " style="left:1443.60px;top:235.32px;font-size:11.3px;color:#e2fbff;font-weight:bold;transform:scaleX(0.8683);-webkit-text-stroke:0.2px #e2fbff;">Dec</div>
<div class="t " style="left:1272.70px;top:259.97px;font-size:11.2px;color:#111;font-weight:bold;transform:scaleX(0.8843);">Guest Type</div>
<div class="hl" style="left:1272.4px;top:277.8px;width:212px"></div>
<svg width="1600" height="686" viewBox="0 0 1600 686"><g fill="none" stroke="#444" stroke-width="1.3"><path d="M1426.70,259.80 L1429.10,262.00 L1434.10,256.90"/><path d="M1435.70,260.70 H1444.30"/><path d="M1426.70,265.42 L1429.10,267.62 L1434.10,262.52"/><path d="M1435.70,266.32 H1444.30"/><path d="M1426.70,271.04 L1429.10,273.24 L1434.10,268.14"/><path d="M1435.70,271.94 H1444.30"/></g><g fill="none" stroke="#bcbcbc" stroke-width="1.3" stroke-linejoin="miter"><path d="M1461.70,259.10 V257.30 H1477.30 V259.00 L1471.40,265.10"/><path d="M1461.70,258.90 L1467.50,265.70 V273.70 M1468.80,267.50 V273.70"/><path d="M1470.50,265.80 L1479.20,274.20 M1479.20,265.80 L1470.50,274.20" stroke="#c6c6c6" stroke-width="1.2"/></g></svg>
<div class="btn" style="left:1273.4px;top:283.7px;width:67.1px;height:29.0px;"></div>
<div class="t " style="left:1283.80px;top:293.02px;font-size:11.3px;color:#e2fbff;font-weight:bold;transform:scaleX(0.8658);-webkit-text-stroke:0.2px #e2fbff;">Business</div>
<div class="btn" style="left:1344.7px;top:283.7px;width:67.1px;height:29.0px;"></div>
<div class="t " style="left:1355.05px;top:293.02px;font-size:11.3px;color:#e2fbff;font-weight:bold;transform:scaleX(0.9140);-webkit-text-stroke:0.2px #e2fbff;">Couple</div>
<div class="btn" style="left:1415.9px;top:283.7px;width:67.1px;height:29.0px;"></div>
<div class="t " style="left:1426.30px;top:293.02px;font-size:11.3px;color:#e2fbff;font-weight:bold;transform:scaleX(0.8660);-webkit-text-stroke:0.2px #e2fbff;">Family</div>
<div class="btn" style="left:1273.4px;top:317.3px;width:67.1px;height:29.0px;"></div>
<div class="t " style="left:1283.80px;top:326.62px;font-size:11.3px;color:#e2fbff;font-weight:bold;transform:scaleX(0.8851);-webkit-text-stroke:0.2px #e2fbff;">Group</div>
<div class="btn" style="left:1344.7px;top:317.3px;width:67.1px;height:29.0px;"></div>
<div class="t " style="left:1355.05px;top:326.62px;font-size:11.3px;color:#e2fbff;font-weight:bold;transform:scaleX(0.8782);-webkit-text-stroke:0.2px #e2fbff;">Solo</div>
<div class="t " style="left:1275.30px;top:359.57px;font-size:11.2px;color:#111;font-weight:bold;transform:scaleX(0.8910);">Status</div>
<div class="hl" style="left:1275px;top:378.3px;width:212px"></div>
<svg width="1600" height="686" viewBox="0 0 1600 686"><g fill="none" stroke="#444" stroke-width="1.3"><path d="M1430.20,359.80 L1432.60,362.00 L1437.60,356.90"/><path d="M1439.20,360.70 H1447.80"/><path d="M1430.20,365.42 L1432.60,367.62 L1437.60,362.52"/><path d="M1439.20,366.32 H1447.80"/><path d="M1430.20,371.04 L1432.60,373.24 L1437.60,368.14"/><path d="M1439.20,371.94 H1447.80"/></g><g fill="none" stroke="#bcbcbc" stroke-width="1.3" stroke-linejoin="miter"><path d="M1465.20,359.10 V357.30 H1480.80 V359.00 L1474.90,365.10"/><path d="M1465.20,358.90 L1471.00,365.70 V373.70 M1472.30,367.50 V373.70"/><path d="M1474.00,365.80 L1482.70,374.20 M1482.70,365.80 L1474.00,374.20" stroke="#c6c6c6" stroke-width="1.2"/></g></svg>
<div class="btn" style="left:1276.0px;top:383.5px;width:103.6px;height:29.0px;"></div>
<div class="t " style="left:1286.30px;top:392.82px;font-size:11.3px;color:#e2fbff;font-weight:bold;transform:scaleX(0.9460);-webkit-text-stroke:0.2px #e2fbff;">Cancelled</div>
<div class="btn" style="left:1383.0px;top:383.5px;width:103.6px;height:29.0px;"></div>
<div class="t " style="left:1393.30px;top:392.82px;font-size:11.3px;color:#e2fbff;font-weight:bold;transform:scaleX(0.9276);-webkit-text-stroke:0.2px #e2fbff;">Checked-In</div>
<div class="btn" style="left:1276.0px;top:417.0px;width:103.6px;height:29.0px;"></div>
<div class="t " style="left:1286.30px;top:426.32px;font-size:11.3px;color:#e2fbff;font-weight:bold;transform:scaleX(0.9248);-webkit-text-stroke:0.2px #e2fbff;">Completed</div>
<div class="btn" style="left:1383.0px;top:417.0px;width:103.6px;height:29.0px;"></div>
<div class="t " style="left:1393.30px;top:426.32px;font-size:11.3px;color:#e2fbff;font-weight:bold;transform:scaleX(0.9115);-webkit-text-stroke:0.2px #e2fbff;">Confirmed</div>
<div class="btn" style="left:1276.0px;top:450.5px;width:103.6px;height:29.0px;"></div>
<div class="t " style="left:1286.30px;top:459.82px;font-size:11.3px;color:#e2fbff;font-weight:bold;transform:scaleX(0.8885);-webkit-text-stroke:0.2px #e2fbff;">No-Show</div>
<div class="t " style="left:1275.30px;top:490.37px;font-size:11.2px;color:#111;font-weight:bold;transform:scaleX(0.8675);">Booking Source</div>
<div class="hl" style="left:1275px;top:508.0px;width:212px"></div>
<svg width="1600" height="686" viewBox="0 0 1600 686"><g fill="none" stroke="#444" stroke-width="1.3"><path d="M1430.20,490.30 L1432.60,492.50 L1437.60,487.40"/><path d="M1439.20,491.20 H1447.80"/><path d="M1430.20,495.92 L1432.60,498.12 L1437.60,493.02"/><path d="M1439.20,496.82 H1447.80"/><path d="M1430.20,501.54 L1432.60,503.74 L1437.60,498.64"/><path d="M1439.20,502.44 H1447.80"/></g><g fill="none" stroke="#bcbcbc" stroke-width="1.3" stroke-linejoin="miter"><path d="M1465.20,489.60 V487.80 H1480.80 V489.50 L1474.90,495.60"/><path d="M1465.20,489.40 L1471.00,496.20 V504.20 M1472.30,498.00 V504.20"/><path d="M1474.00,496.30 L1482.70,504.70 M1482.70,496.30 L1474.00,504.70" stroke="#c6c6c6" stroke-width="1.2"/></g></svg>
<div class="btn" style="left:1276.0px;top:514.1px;width:103.6px;height:29.0px;"></div>
<div class="t " style="left:1286.30px;top:523.42px;font-size:11.3px;color:#e2fbff;font-weight:bold;transform:scaleX(0.8392);-webkit-text-stroke:0.2px #e2fbff;">Agoda</div>
<div class="btn" style="left:1383.0px;top:514.1px;width:103.6px;height:29.0px;"></div>
<div class="t " style="left:1393.30px;top:523.42px;font-size:11.3px;color:#e2fbff;font-weight:bold;transform:scaleX(0.8653);-webkit-text-stroke:0.2px #e2fbff;">Airbnb</div>
<div class="btn" style="left:1276.0px;top:547.5px;width:103.6px;height:29.0px;"></div>
<div class="t " style="left:1286.30px;top:556.82px;font-size:11.3px;color:#e2fbff;font-weight:bold;transform:scaleX(0.8663);-webkit-text-stroke:0.2px #e2fbff;">Booking.com</div>
<div class="btn" style="left:1383.0px;top:547.5px;width:103.6px;height:29.0px;"></div>
<div class="t " style="left:1393.30px;top:556.82px;font-size:11.3px;color:#e2fbff;font-weight:bold;transform:scaleX(0.9054);-webkit-text-stroke:0.2px #e2fbff;">Direct</div>
<div class="btn" style="left:1276.0px;top:580.9px;width:103.6px;height:29.0px;"></div>
<div class="t " style="left:1286.30px;top:590.22px;font-size:11.3px;color:#e2fbff;font-weight:bold;transform:scaleX(0.8999);-webkit-text-stroke:0.2px #e2fbff;">Expedia</div>
<div class="btn" style="left:1383.0px;top:580.9px;width:103.6px;height:29.0px;"></div>
<div class="t " style="left:1393.30px;top:590.22px;font-size:11.3px;color:#e2fbff;font-weight:bold;transform:scaleX(0.8901);-webkit-text-stroke:0.2px #e2fbff;">Travel Agent</div>
</div></body></html>
